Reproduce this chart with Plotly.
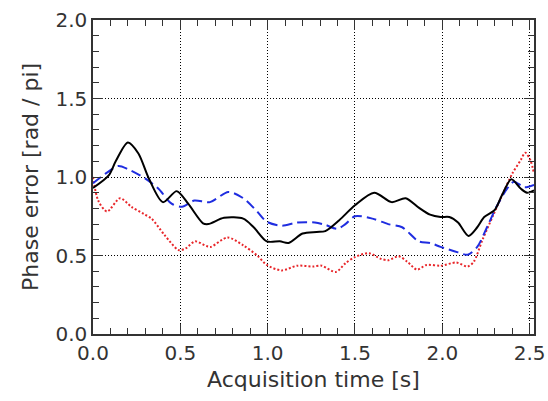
import plotly.graph_objects as go

# Black solid series
black_t = [0.00, 0.09, 0.13, 0.20, 0.26, 0.32, 0.40, 0.48, 0.545, 0.63, 0.66, 0.75, 0.86, 0.92,
           0.995, 1.07, 1.12, 1.20, 1.28, 1.33, 1.41, 1.50, 1.61, 1.71, 1.79, 1.865, 1.93, 1.99,
           2.04, 2.09, 2.15, 2.20, 2.24, 2.30, 2.34, 2.395, 2.45, 2.485, 2.525]
black_v = [0.93, 1.01, 1.10, 1.22, 1.15, 0.99, 0.84, 0.91, 0.83, 0.705, 0.70, 0.74, 0.735, 0.68,
           0.59, 0.59, 0.58, 0.64, 0.65, 0.655, 0.725, 0.82, 0.90, 0.84, 0.865, 0.805, 0.76, 0.745,
           0.745, 0.71, 0.625, 0.68, 0.745, 0.79, 0.88, 0.985, 0.925, 0.90, 0.915]

# Blue dashed series
blue_t = [0.00, 0.07, 0.145, 0.20, 0.30, 0.375, 0.45, 0.51, 0.58, 0.67, 0.775, 0.86, 0.94, 0.995,
          1.08, 1.17, 1.27, 1.33, 1.40, 1.445, 1.50, 1.60, 1.69, 1.77, 1.865, 1.93, 1.99, 2.09,
          2.145, 2.20, 2.26, 2.31, 2.37, 2.41, 2.47, 2.525]
blue_v = [0.96, 1.02, 1.07, 1.05, 0.99, 0.925, 0.83, 0.81, 0.85, 0.84, 0.905, 0.865, 0.78, 0.715,
          0.69, 0.71, 0.71, 0.695, 0.67, 0.70, 0.75, 0.735, 0.70, 0.68, 0.59, 0.58, 0.555, 0.52,
          0.505, 0.555, 0.69, 0.81, 0.925, 0.97, 0.935, 0.95]

# Red dotted series
red_t = [0.00, 0.03, 0.08, 0.155, 0.22, 0.29, 0.335, 0.41, 0.49, 0.53, 0.585, 0.65, 0.675, 0.77,
         0.86, 0.94, 0.995, 1.08, 1.17, 1.26, 1.31, 1.39, 1.445, 1.50, 1.58, 1.645, 1.69, 1.75,
         1.80, 1.855, 1.91, 1.99, 2.08, 2.145, 2.18, 2.23, 2.295, 2.355, 2.40, 2.45, 2.475, 2.505, 2.525]
red_v = [1.00, 0.85, 0.78, 0.865, 0.81, 0.765, 0.735, 0.63, 0.535, 0.545, 0.59, 0.56, 0.555, 0.615,
         0.565, 0.50, 0.44, 0.405, 0.435, 0.43, 0.435, 0.395, 0.45, 0.49, 0.515, 0.48, 0.47, 0.495,
         0.46, 0.41, 0.44, 0.435, 0.455, 0.43, 0.46, 0.60, 0.765, 0.915, 1.02, 1.11, 1.155, 1.105, 1.02]

x_ticks = [0.0, 0.5, 1.0, 1.5, 2.0, 2.5]
x_tick_labels = ["0.0", "0.5", "1.0", "1.5", "2.0", "2.5"]
y_ticks = [0.0, 0.5, 1.0, 1.5, 2.0]
y_tick_labels = ["0.0", "0.5", "1.0", "1.5", "2.0"]

x_title = "Acquisition time [s]"
y_title = "Phase error [rad / pi]"

FONT = "DejaVu Sans"
TXT = "#333333"
AX = "#333333"

fig = go.Figure()
fig.add_trace(go.Scatter(x=red_t, y=red_v, mode="lines",
                         line=dict(color="#e8262a", width=2, dash="2px,2px", shape="spline", smoothing=0.8)))
fig.add_trace(go.Scatter(x=blue_t, y=blue_v, mode="lines",
                         line=dict(color="#1f2de0", width=2, dash="10px,5px", shape="spline", smoothing=0.8)))
fig.add_trace(go.Scatter(x=black_t, y=black_v, mode="lines",
                         line=dict(color="#000000", width=2, shape="spline", smoothing=0.8)))

axis_common = dict(
    showline=True, linecolor=AX, linewidth=1.5, mirror="ticks",
    ticks="inside", ticklen=10, tickwidth=1, tickcolor=AX,
    showgrid=True, gridcolor="#000000", gridwidth=1, griddash="1px,2px",
    zeroline=False, automargin=False,
    tickfont=dict(family=FONT, size=20, color=TXT),
)

fig.update_xaxes(range=[0, 2.525], tickvals=x_ticks, ticktext=x_tick_labels,
                 minor=dict(dtick=0.1, ticks="inside", ticklen=6, tickcolor=AX, showgrid=False),
                 **axis_common)
fig.update_yaxes(range=[0, 2.0], tickvals=y_ticks, ticktext=y_tick_labels,
                 minor=dict(dtick=0.1, ticks="inside", ticklen=6, tickcolor=AX, showgrid=False),
                 **axis_common)

fig.add_annotation(text=x_title, xref="paper", yref="paper", x=0.5, y=-0.146,
                   xanchor="center", yanchor="middle", showarrow=False,
                   font=dict(family=FONT, size=22, color=TXT))
fig.add_annotation(text=y_title, xref="paper", yref="paper", x=-0.143, y=0.5, textangle=-90,
                   xanchor="center", yanchor="middle", showarrow=False,
                   font=dict(family=FONT, size=22, color=TXT))

fig.update_layout(
    width=548, height=401,
    margin=dict(l=93, r=14, t=20, b=67),
    paper_bgcolor="white", plot_bgcolor="white",
    showlegend=False,
)

fig.write_html("out.html", config={"displayModeBar": False},
               post_script="document.body.style.margin='0';document.body.style.padding='0';")
